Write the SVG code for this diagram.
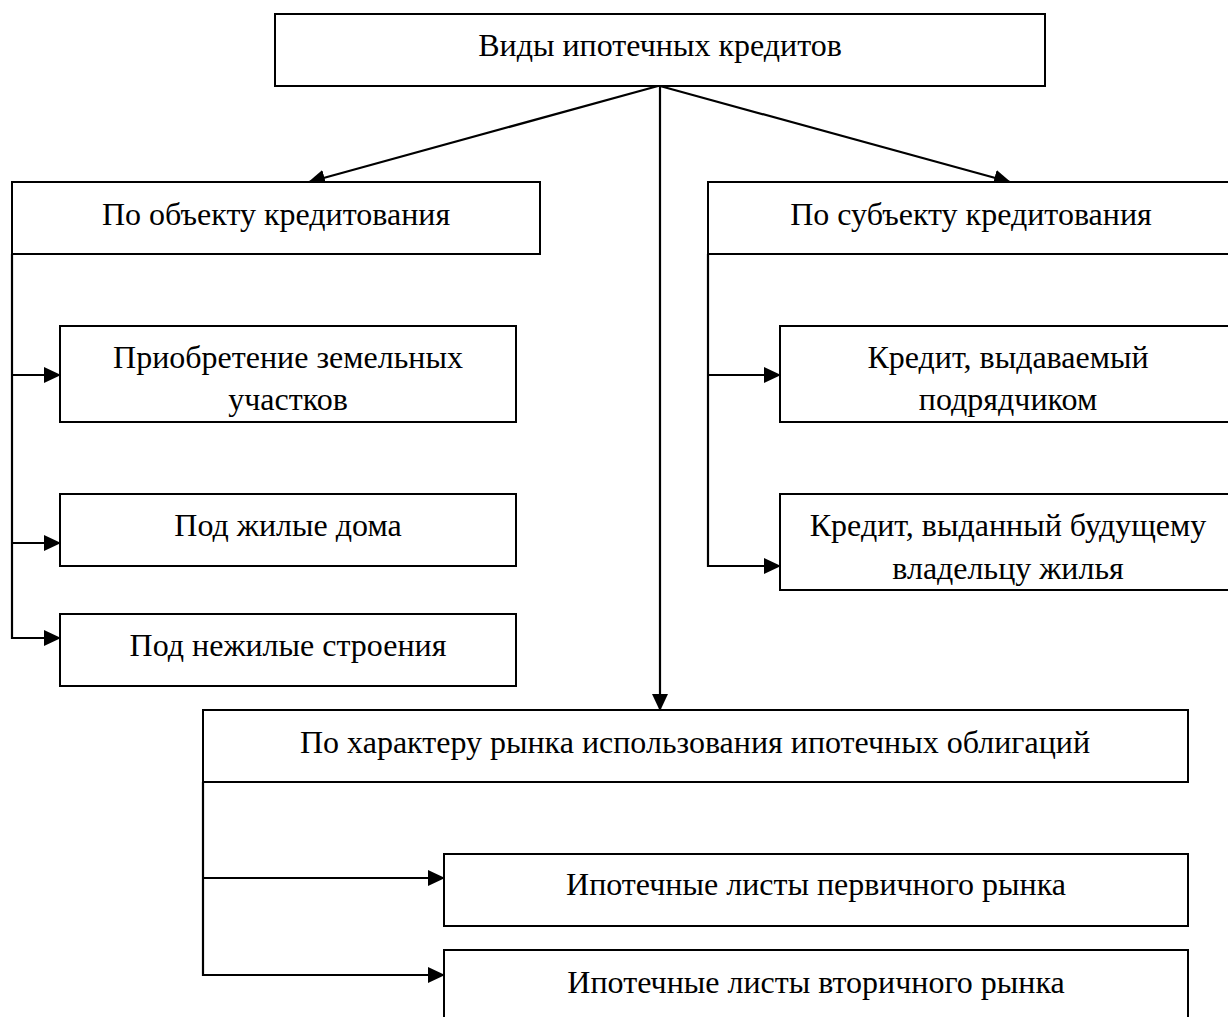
<svg xmlns="http://www.w3.org/2000/svg" width="1228" height="1017" viewBox="0 0 1228 1017">
<defs>
<style>
.box{fill:#fff;stroke:#000;stroke-width:2}
.t{font-family:"Liberation Serif","Times New Roman",serif;font-size:32px;fill:#000;text-anchor:middle}
.c{fill:none;stroke:#000;stroke-width:2.2}
</style>
<marker id="ah" markerUnits="userSpaceOnUse" markerWidth="18" markerHeight="16" refX="16" refY="8" orient="auto">
<path d="M0,0 L17,8 L0,16 Z" fill="#000"/>
</marker>
</defs>
<rect width="1228" height="1017" fill="#fff"/>
<g id="connectors">
<line class="c" x1="658" y1="86" x2="309" y2="182" marker-end="url(#ah)"/>
<line class="c" x1="660" y1="86" x2="1010" y2="182" marker-end="url(#ah)"/>
<line class="c" x1="660" y1="86" x2="660" y2="710" marker-end="url(#ah)"/>
<polyline class="c" points="12,254 12,638 60,638" marker-end="url(#ah)"/>
<line class="c" x1="12" y1="375" x2="60" y2="375" marker-end="url(#ah)"/>
<line class="c" x1="12" y1="543" x2="60" y2="543" marker-end="url(#ah)"/>
<polyline class="c" points="708,254 708,566 780,566" marker-end="url(#ah)"/>
<line class="c" x1="708" y1="375" x2="780" y2="375" marker-end="url(#ah)"/>
<polyline class="c" points="203,782 203,975 444,975" marker-end="url(#ah)"/>
<line class="c" x1="203" y1="878" x2="444" y2="878" marker-end="url(#ah)"/>
</g>
<g id="root"><rect class="box" x="275" y="14" width="770" height="72"/><text class="t" x="660" y="56">Виды ипотечных кредитов</text></g>
<g id="object"><rect class="box" x="12" y="182" width="528" height="72"/><text class="t" x="276" y="225">По объекту кредитования</text></g>
<g id="subject"><rect class="box" x="708" y="182" width="530" height="72"/><text class="t" x="971" y="225">По субъекту кредитования</text></g>
<g id="land"><rect class="box" x="60" y="326" width="456" height="96"/><text class="t" x="288" y="368">Приобретение земельных</text><text class="t" x="288" y="410">участков</text></g>
<g id="houses"><rect class="box" x="60" y="494" width="456" height="72"/><text class="t" x="288" y="536">Под жилые дома</text></g>
<g id="nonres"><rect class="box" x="60" y="614" width="456" height="72"/><text class="t" x="288" y="656">Под нежилые строения</text></g>
<g id="contractor"><rect class="box" x="780" y="326" width="458" height="96"/><text class="t" x="1008" y="368">Кредит, выдаваемый</text><text class="t" x="1008" y="410">подрядчиком</text></g>
<g id="owner"><rect class="box" x="780" y="494" width="458" height="96"/><text class="t" x="1008" y="536">Кредит, выданный будущему</text><text class="t" x="1008" y="579">владельцу жилья</text></g>
<g id="market"><rect class="box" x="203" y="710" width="985" height="72"/><text class="t" x="695" y="753">По характеру рынка использования ипотечных облигаций</text></g>
<g id="primary"><rect class="box" x="444" y="854" width="744" height="72"/><text class="t" x="816" y="895">Ипотечные листы первичного рынка</text></g>
<g id="secondary"><rect class="box" x="444" y="950" width="744" height="80"/><text class="t" x="816" y="993">Ипотечные листы вторичного рынка</text></g>
</svg>
